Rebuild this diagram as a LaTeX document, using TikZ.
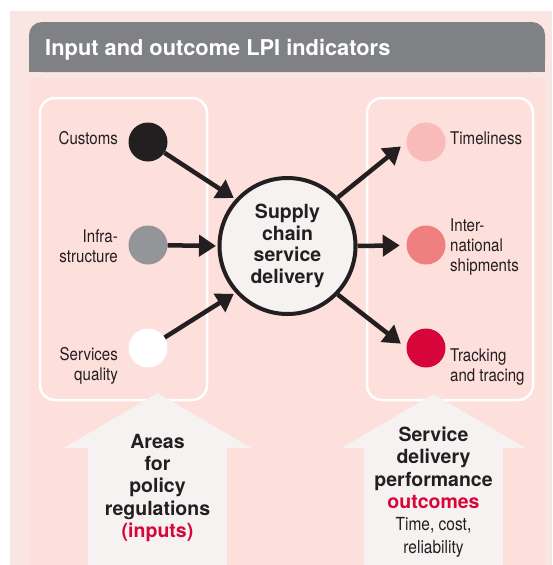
\documentclass[tikz,border=0pt]{standalone}
\usepackage{fontspec}
\setmainfont{TeX Gyre Heros}
\newfontfamily\narrowfont[FakeStretch=0.86]{TeX Gyre Heros}
\usetikzlibrary{arrows.meta, positioning}
\definecolor{pagebg}{RGB}{249,230,227}
\definecolor{panelbg}{RGB}{253,223,219}
\definecolor{headgray}{RGB}{128,129,133}
\definecolor{offwhite}{RGB}{245,242,241}
\definecolor{inkdark}{RGB}{35,31,32}
\definecolor{infragray}{RGB}{147,149,152}
\definecolor{timepink}{RGB}{249,186,186}
\definecolor{intlsalmon}{RGB}{240,127,127}
\definecolor{accentred}{RGB}{215,6,58}
\newcommand{\plainnarrow}{\narrowfont\mdseries\fontsize{18}{22.4}\selectfont}

\begin{document}
\begin{tikzpicture}[x=1pt, y=-1pt,
    dot/.style={circle, inner sep=0pt, minimum size=39pt},
    lbl/.style={font=\narrowfont\fontsize{17.5}{20}\selectfont, text=inkdark, inner sep=0pt},
    boldtext/.style={font=\fontsize{19.5}{22.3}\selectfont\bfseries, text=inkdark, align=center, inner sep=0pt},
    flow/.style={-{Triangle[length=17pt, width=21pt]}, line width=4.5pt, draw=inkdark},
    panel/.style={draw=white, line width=2.5pt, rounded corners=15pt},
    bigarrow/.style={fill=offwhite}]
    \useasboundingbox (0,0) rectangle (552,565);

    % Backgrounds
    \fill[pagebg] (10,11) rectangle (552,565);
    \fill[headgray, rounded corners=13pt] (29,22) rectangle (545,72);
    \fill[headgray] (29,50) rectangle (545,72);
    \fill[panelbg] (29,78) rectangle (545,565);
    \node[anchor=base west, font=\fontsize{21.8}{24}\selectfont\bfseries, text=white, inner sep=0pt] (title) at (45,55) {Input and outcome LPI indicators};

    % Input and outcome panels
    \draw[panel] (40,98) rectangle (207,400);
    \draw[panel] (367,98) rectangle (533,400);

    % Block arrows
    \fill[bigarrow] (88,565) -- (88,448) -- (63.5,448) -- (157.5,393) -- (251.5,448) -- (227,448) -- (227,565) -- cycle;
    \fill[bigarrow] (364,565) -- (364,448) -- (341.5,448) -- (433.5,394) -- (525.5,448) -- (503,448) -- (503,565) -- cycle;
    \node[boldtext, font=\fontsize{19.5}{22.25}\selectfont\bfseries] (inputs) at (157.5,488) {Areas\\for\\policy\\regulations\\\textcolor{accentred}{(inputs)}};
    \node[boldtext, font=\fontsize{19.5}{22.4}\selectfont\bfseries] (outcomes) at (433.5,492) {Service\\delivery\\performance\\\textcolor{accentred}{outcomes}\\{\plainnarrow Time, cost,}\\{\plainnarrow reliability}};

    % Supply chain
    \node[circle, draw=inkdark, line width=4pt, fill=offwhite, minimum size=136pt, inner sep=0pt,
          boldtext, font=\fontsize{19.5}{21.5}\selectfont\bfseries] (scd) at (287.5,246) {Supply\\chain\\service\\delivery};

    % Inputs
    \node[dot, fill=inkdark] (cust) at (148,142) {};
    \node[dot, fill=infragray] (infra) at (148,245) {};
    \node[dot, fill=white] (serv) at (148,348) {};
    \node[lbl, anchor=base east] (custlbl) at (118,144) {Customs};
    \node[lbl, align=right, anchor=east] (infralbl) at (118,246) {Infra-\\structure};
    \node[lbl, align=right, anchor=east] (servlbl) at (118,366) {Services\\quality};

    % Outcomes
    \node[dot, fill=timepink] (time) at (426,142) {};
    \node[dot, fill=intlsalmon] (intl) at (426,245) {};
    \node[dot, fill=accentred] (track) at (426,348) {};
    \node[lbl, anchor=base west] (timelbl) at (450,144) {Timeliness};
    \node[lbl, align=left, anchor=west] (intllbl) at (450,247) {Inter-\\national\\shipments};
    \node[lbl, align=left, anchor=west] (tracklbl) at (450,367) {Tracking\\and tracing};

    \draw[flow, shorten >=2pt] (cust) -- (scd.138);
    \draw[flow, shorten >=1.5pt] (infra) -- (scd.west);
    \draw[flow, shorten >=2pt] (serv) -- (scd.222);
    \draw[flow, shorten >=7pt] (scd.44) -- (time.west);
    \draw[flow, shorten >=6.5pt] (scd.east) -- (intl);
    \draw[flow, shorten >=7pt] (scd.-44) -- (track.west);
\end{tikzpicture}
\end{document}
